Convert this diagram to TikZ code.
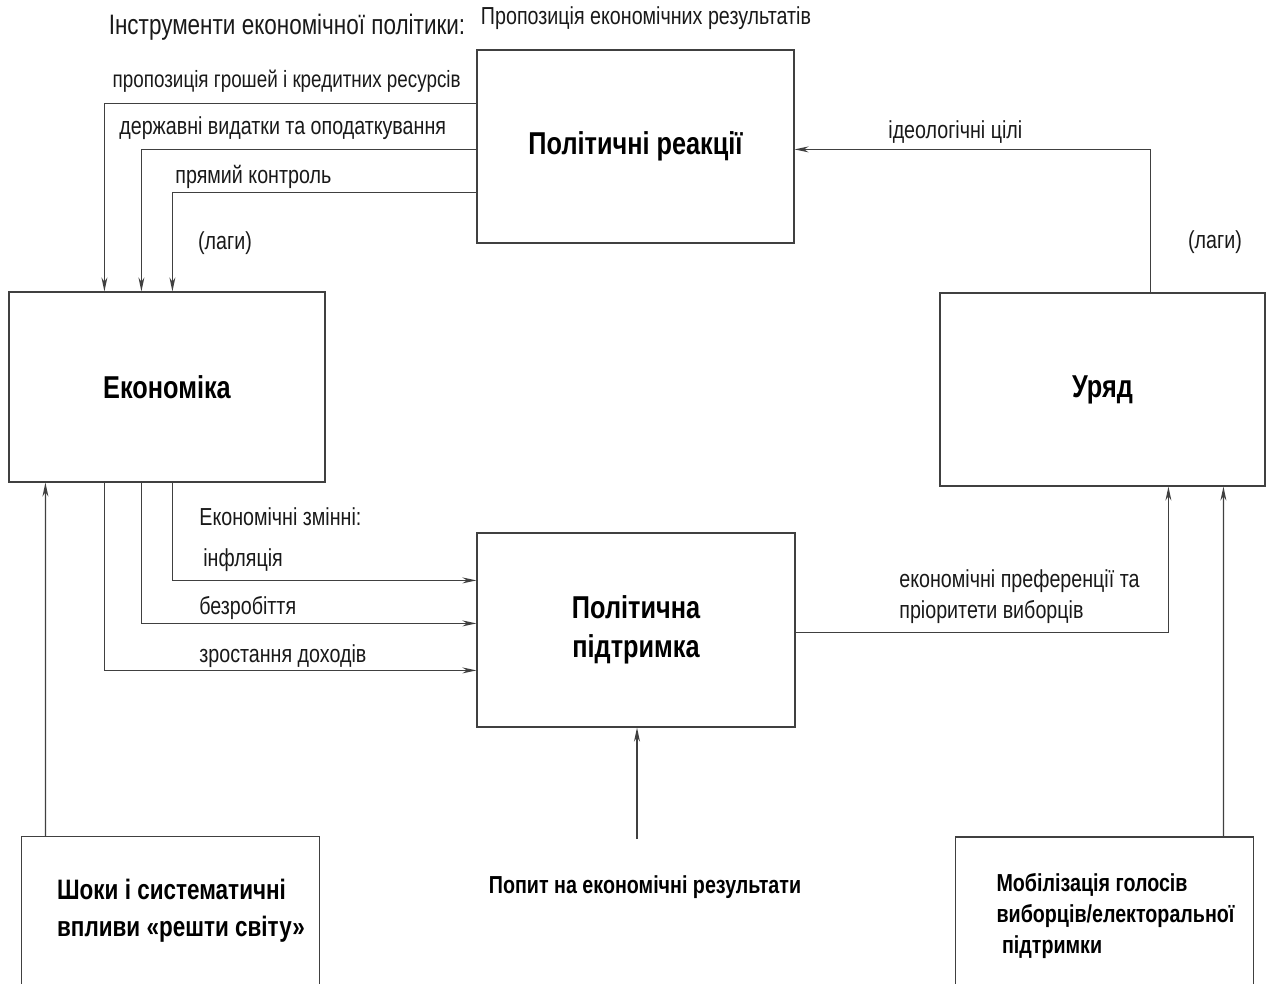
\documentclass[tikz,border=0pt]{standalone}
\usepackage{fontspec}
\setmainfont{Liberation Sans}[FakeStretch=0.8]
\usetikzlibrary{arrows.meta,calc}

\begin{document}
\begin{tikzpicture}[x=0.02cm, y=-0.02cm, >={Stealth[length=8pt,width=3.4pt]}, line width=0.7pt,
  kasten/.style={draw=black!75, align=center, font=\fontsize{18}{22}\selectfont\bfseries},
  offen/.style={minimum width=5.94cm, minimum height=2.92cm},
  lbl/.style={inner sep=1pt, text=black!90, font=\fontsize{14}{17.6}\selectfont, align=left},
  kante/.style={draw=black!75}]

\useasboundingbox (0,0) rectangle (1270,983);

% Kästen
\node[kasten, minimum width=6.34cm, minimum height=3.86cm] (reakcii) at (635.5,146.5) {Політичні реакції};
\node[kasten, minimum width=6.32cm, minimum height=3.8cm] (ekonomika) at (167,387) {Економіка};
\node[kasten, minimum width=6.36cm, minimum height=3.88cm] (pidtrymka) at (636,630) {Політична\\підтримка};
\node[kasten, minimum width=6.5cm, minimum height=3.86cm] (uriad) at (1102.5,389.5) {Уряд};

\node[offen] (shoky) at (170.5,910) {};
\node[offen] (mobil) at (1104.5,910.5) {};
\draw[kante] (shoky.south west) -- (shoky.north west) -- (shoky.north east) -- (shoky.south east);
\draw[kante] (mobil.south west) -- (mobil.north west) -- (mobil.north east) -- (mobil.south east);
\node[align=left, font=\fontsize{16}{21}\selectfont\bfseries] (shokyText) at (181,911) {Шоки і систематичні\\впливи «решти світу»};
\node[align=left, font=\fontsize{14}{17.5}\selectfont\bfseries] (mobilText) at (1115.5,916) {Мобілізація голосів\\виборців/електоральної\\\ підтримки};
\node[font=\fontsize{14}{17}\selectfont\bfseries] (popyt) at (645,887) {Попит на економічні результати};

% Beschriftungen
\node[lbl, font=\fontsize{16}{19}\selectfont] (instr) at (287,27) {Інструменти економічної політики:};
\node[lbl] (propoz) at (646,18) {Пропозиція економічних результатів};
\node[lbl, anchor=east, font=\fontsize{13.4}{17}\selectfont] (lblGroshi) at (463,81) {пропозиція грошей і кредитних ресурсів};
\node[lbl, anchor=west] (lblVydatky) at (117,128) {державні видатки та оподаткування};
\node[lbl, anchor=west] (lblKontrol) at (173,177) {прямий контроль};
\node[lbl] (lblLagy) at (225,243) {(лаги)};
\node[lbl, anchor=west] (lblZminni) at (197,517) {Економічні змінні:};
\node[lbl, anchor=west] (lblInfl) at (201,560) {інфляція};
\node[lbl, anchor=west] (lblBezrob) at (197,608) {безробіття};
\node[lbl, anchor=west] (lblDohody) at (197,656) {зростання доходів};
\node[lbl, anchor=west] (lblIdeol) at (886,132) {ідеологічні цілі};
\node[lbl, anchor=west] (lblPref) at (897,597) {економічні преференції та\\пріоритети виборців};
\node[lbl] (lblLagyU) at (1215,242) {(лаги)};

% Pfeile
\draw[kante, ->] ($(reakcii.north west)+(0,54)$) -| ($(ekonomika.north west)+(96,0)$);
\draw[kante, ->] ($(reakcii.north west)+(0,100)$) -| ($(ekonomika.north west)+(133,0)$);
\draw[kante, ->] ($(reakcii.north west)+(0,143)$) -| ($(ekonomika.north west)+(164,0)$);
\draw[kante, ->] ($(ekonomika.south west)+(164,0)$) |- ($(pidtrymka.north west)+(0,48)$);
\draw[kante, ->] ($(ekonomika.south west)+(133,0)$) |- ($(pidtrymka.north west)+(0,91)$);
\draw[kante, ->] ($(ekonomika.south west)+(96,0)$) |- ($(pidtrymka.north west)+(0,138)$);
\draw[kante, ->] ($(shoky.north west)+(24,0)$) -- ($(ekonomika.south west)+(37,0)$);
\coordinate (popytTop) at (637,839);
\draw[kante, ->] (popytTop) -- (popytTop |- pidtrymka.south);
\draw[kante, ->] ($(pidtrymka.north east)+(0,100)$) -| ($(uriad.south west)+(229,0)$);
\draw[kante, ->] ($(mobil.north west)+(268,0)$) -- ($(uriad.south west)+(284,0)$);
\draw[kante, ->] ($(uriad.north west)+(211,0)$) |- ($(reakcii.north east)+(0,100)$);
\end{tikzpicture}
\end{document}
